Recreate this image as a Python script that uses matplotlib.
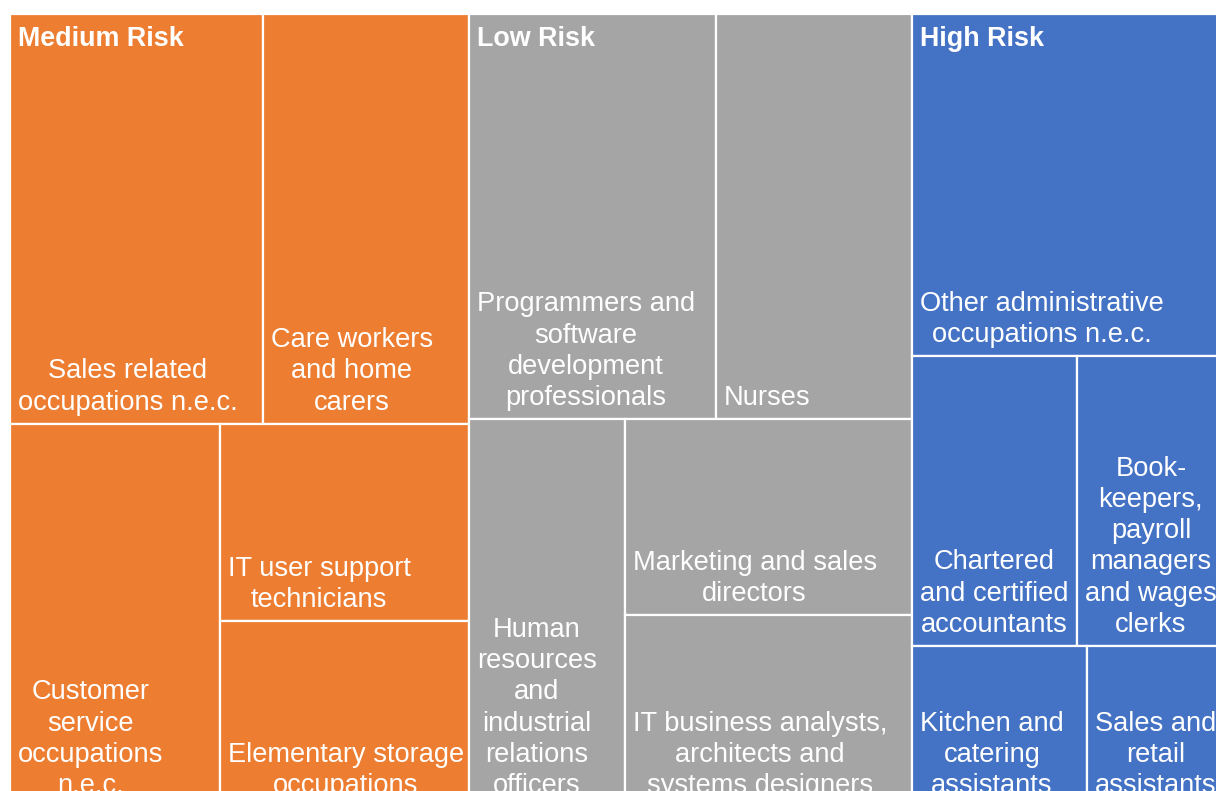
""" Treemap of occupations by risk group """

import matplotlib.pyplot as plt
from matplotlib.patches import Rectangle

# -- Data (relative sizes)

groups = ['Medium Risk', 'Low Risk', 'High Risk']
group_colors = ['#ED7D31', '#A5A5A5', '#4472C4']

medium_labels = ['Sales related\noccupations n.e.c.',
                 'Care workers\nand home\ncarers',
                 'Customer\nservice\noccupations\nn.e.c.',
                 'IT user support\ntechnicians',
                 'Elementary storage\noccupations']
medium_values = [103, 84, 80, 49, 46]

low_labels = ['Programmers and\nsoftware\ndevelopment\nprofessionals',
              'Nurses',
              'Human\nresources\nand\nindustrial\nrelations\nofficers',
              'Marketing and sales\ndirectors',
              'IT business analysts,\narchitects and\nsystems designers']
low_values = [99.5, 79, 60, 56, 55]

high_labels = ['Other administrative\noccupations n.e.c.',
               'Chartered\nand certified\naccountants',
               'Book-\nkeepers,\npayroll\nmanagers\nand wages\nclerks',
               'Kitchen and\ncatering\nassistants',
               'Sales and\nretail\nassistants']
high_values = [105, 47.5, 41.5, 28, 21.5]

# -- Layout of each group: 'v' stacks top to bottom, 'h' sets side by side
medium_tree = ('v', [('h', [0, 1]), ('h', [2, ('v', [3, 4])])])
low_tree = ('v', [('h', [0, 1]), ('h', [2, ('v', [3, 4])])])
high_tree = ('v', [0, ('h', [1, 2]), ('h', [3, 4])])


def node_value(node, values):
    if isinstance(node, int):
        return values[node]
    return sum(node_value(c, values) for c in node[1])


def layout(node, values, x, y, w, h, out):
    """ Split rectangle (x, y, w, h) in proportion to the values. """
    if isinstance(node, int):
        out[node] = (x, y, w, h)
        return
    kind, children = node
    total = node_value(node, values)
    pos = 0.0
    for c in children:
        frac = node_value(c, values) / total
        if kind == 'h':
            layout(c, values, x + pos * w, y, frac * w, h, out)
        else:
            layout(c, values, x, y + pos * h, w, frac * h, out)
        pos += frac


all_sets = [(medium_labels, medium_values, medium_tree),
            (low_labels, low_values, low_tree),
            (high_labels, high_values, high_tree)]

# -- Drawing (axes in pixel units, chart runs past the bottom and right)

W, H = 1216, 791
fig = plt.figure(figsize=(W / 100, H / 100), dpi=100)
ax = fig.add_axes([0, 0, 1, 1])
ax.set_xlim(0, W)
ax.set_ylim(H, 0)
ax.axis('off')

X0, Y0, CW, CH = 10, 14, 1211, 793
font = 'Liberation Sans'

totals = [sum(v) for _, v, _ in all_sets]
gx = X0
for g, (labels, values, tree) in enumerate(all_sets):
    gw = CW * totals[g] / sum(totals)
    rects = {}
    layout(tree, values, gx, Y0, gw, CH, rects)
    for i, lab in enumerate(labels):
        x, y, w, h = rects[i]
        ax.add_patch(Rectangle((x, y), w, h, facecolor=group_colors[g],
                               edgecolor='white', linewidth=1.6))
        ax.text(x + 8, y + h - 8, lab, ha='left', va='bottom',
                multialignment='center', color='white', fontsize=19.6,
                family=font, linespacing=1.26)
    ax.text(gx + 8, Y0 + 12, groups[g], ha='left', va='top', color='white',
            fontsize=19.4, fontweight='bold', family=font)
    gx += gw

fig.savefig('out.png', dpi=100)
